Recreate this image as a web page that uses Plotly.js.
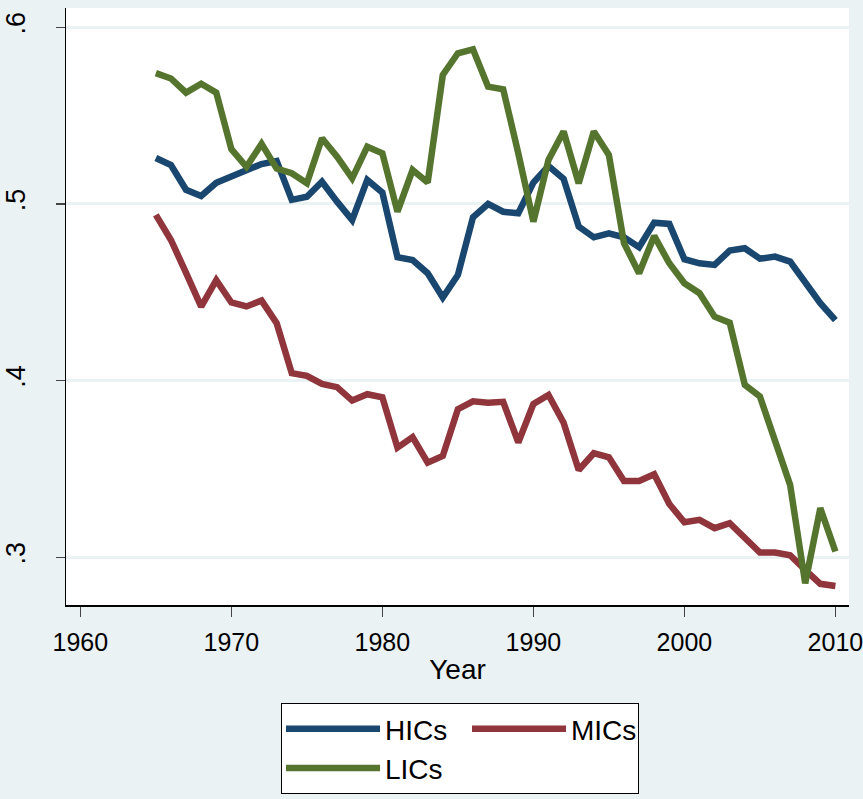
<!DOCTYPE html>
<html>
<head>
<meta charset="utf-8">
<script src="https://cdn.plot.ly/plotly-3.0.1.min.js"></script>
<style>html,body{margin:0;padding:0;background:#EAF2F3;}</style>
</head>
<body>
<div id="chart" style="width:863px;height:799px;"></div>
<script>
const years = [1965,1966,1967,1968,1969,1970,1971,1972,1973,1974,1975,1976,1977,1978,1979,1980,1981,1982,1983,1984,1985,1986,1987,1988,1989,1990,1991,1992,1993,1994,1995,1996,1997,1998,1999,2000,2001,2002,2003,2004,2005,2006,2007,2008,2009,2010];

const hics = [0.526,0.522,0.508,0.5045,0.512,0.5155,0.519,0.5226,0.5243,0.5023,0.5041,0.5126,0.5013,0.4909,0.5136,0.5064,0.4698,0.4683,0.4608,0.447,0.4598,0.4925,0.500,0.4956,0.4947,0.5121,0.5215,0.5142,0.4872,0.4811,0.4834,0.4811,0.4755,0.4894,0.4887,0.4687,0.4664,0.4655,0.4736,0.4749,0.469,0.4702,0.4674,0.4551,0.4438,0.4342];

const mics = [0.4938,0.4796,0.461,0.4419,0.4569,0.4442,0.442,0.4453,0.4325,0.4042,0.4027,0.3981,0.3963,0.3887,0.3923,0.3906,0.3621,0.368,0.3536,0.3574,0.3838,0.3883,0.3875,0.388,0.365,0.3868,0.3919,0.3762,0.3494,0.3589,0.3566,0.3432,0.3432,0.347,0.3302,0.3198,0.3212,0.3165,0.3193,0.3108,0.3027,0.3027,0.3012,0.2929,0.285,0.2838];

const lics = [0.574,0.571,0.563,0.568,0.563,0.531,0.521,0.534,0.520,0.5174,0.5117,0.5372,0.5268,0.5145,0.5324,0.5287,0.4956,0.5192,0.5121,0.573,0.5853,0.5875,0.5664,0.5649,0.5287,0.490,0.5249,0.541,0.5117,0.541,0.5277,0.4778,0.4608,0.4819,0.4664,0.4551,0.4495,0.4362,0.4328,0.3976,0.391,0.3646,0.341,0.2853,0.3278,0.3033];

const seriesNames = ['HICs','MICs','LICs'];
const yTickVals = [0.3,0.4,0.5,0.6];
const yTickText = ['.3','.4','.5','.6'];
const xTickVals = [1960,1970,1980,1990,2000,2010];
const xTickText = ['1960','1970','1980','1990','2000','2010'];

const FONT = '"Liberation Sans Narrow", "Arial Narrow", "Liberation Sans", Arial, sans-serif';

const traces = [
  {x: years, y: hics, name: seriesNames[0], type: 'scatter', mode: 'lines',
   line: {color: '#1a476f', width: 6.5}, legendgroup: 'a', legendwidth: 77},
  {x: years, y: mics, name: seriesNames[1], type: 'scatter', mode: 'lines',
   line: {color: '#90353b', width: 6.5}, legendgroup: 'b', legendwidth: 62},
  {x: years, y: lics, name: seriesNames[2], type: 'scatter', mode: 'lines',
   line: {color: '#55752f', width: 6.5}, legendgroup: 'a', legendwidth: 77}
];

const layout = {
  width: 863, height: 799,
  paper_bgcolor: '#EAF2F3',
  plot_bgcolor: '#ffffff',
  margin: {l: 66, r: 14, t: 8, b: 194, autoexpand: false},
  font: {family: FONT, color: '#000000'},
  showlegend: true,
  legend: {
    orientation: 'h', traceorder: 'grouped',
    x: (281 - 66) / 783, xanchor: 'left',
    y: -(703 - 605) / 597, yanchor: 'top',
    bgcolor: '#ffffff', bordercolor: '#000000', borderwidth: 1,
    font: {family: FONT, size: 28, color: '#000000'},
    itemwidth: 94, tracegroupgap: 0
  },
  xaxis: {
    range: [1959.05, 2010.9],
    tickmode: 'array', tickvals: xTickVals, ticktext: xTickText,
    ticks: 'outside', ticklen: 10, tickwidth: 1.5, tickcolor: '#444444',
    showline: true, linecolor: '#000000', linewidth: 1.5,
    showgrid: false, zeroline: false,
    tickfont: {family: FONT, size: 25, color: '#000000'},
    ticklabelstandoff: 4,
    ticklabeloverflow: 'allow',
    title: {text: 'Year', font: {family: FONT, size: 28, color: '#000000'}, standoff: 5}
  },
  yaxis: {
    range: [0.273, 0.6109],
    tickmode: 'array', tickvals: yTickVals, ticktext: yTickText,
    tickangle: -90,
    ticks: 'outside', ticklen: 9, tickwidth: 1.5, tickcolor: '#444444',
    showline: true, linecolor: '#000000', linewidth: 1.5,
    showgrid: true, gridcolor: '#EAF2F3', gridwidth: 3,
    zeroline: false,
    tickfont: {family: FONT, size: 27, color: '#000000'},
    ticklabelstandoff: 20
  }
};

Plotly.newPlot('chart', traces, layout, {displayModeBar: false, staticPlot: true});
</script>
</body>
</html>
